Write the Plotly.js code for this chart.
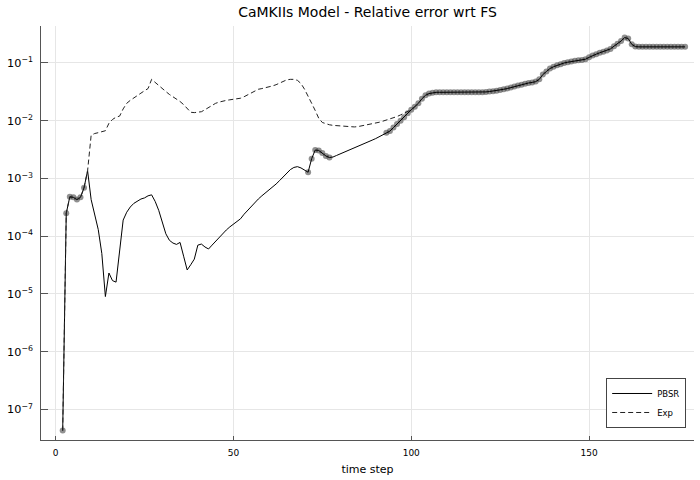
<!DOCTYPE html>
<html>
<head>
<meta charset="utf-8">
<script src="https://cdn.plot.ly/plotly-3.0.1.min.js"></script>
<style>html,body{margin:0;padding:0;background:#fff;}#chart{width:700px;height:480px;}</style>
</head>
<body>
<div id="chart"></div>
<script>
// time steps 2..177
const steps = [];
for (let t = 2; t <= 177; t++) steps.push(t);

// PBSR relative error, t = 2..177
const pbsr = [
  4.3e-8, 2.5e-4, 4.8e-4, 4.7e-4, 4.3e-4, 4.7e-4, 6.9e-4, 1.36e-3, 4.3e-4,      // 2-10
  2.2e-4, 1.3e-4, 5.0e-5, 9.0e-6, 2.3e-5, 1.7e-5, 1.6e-5, 5.0e-5, 1.9e-4, 2.6e-4, // 11-20
  3.2e-4, 3.7e-4, 4.1e-4, 4.4e-4, 4.6e-4, 5.0e-4, 5.2e-4, 4.0e-4, 2.8e-4, 1.7e-4, // 21-30
  1.1e-4, 8.5e-5, 7.6e-5, 7.2e-5, 7.8e-5, 4.5e-5, 2.6e-5, 3.2e-5, 4.0e-5, 7.0e-5, // 31-40
  7.3e-5, 6.5e-5, 6.0e-5, 7.0e-5, 8.2e-5, 9.6e-5, 1.12e-4, 1.28e-4, 1.45e-4, 1.63e-4, // 41-50
  1.8e-4, 2.0e-4, 2.4e-4, 2.8e-4, 3.3e-4, 3.8e-4, 4.4e-4, 5.0e-4, 5.6e-4, 6.3e-4, // 51-60
  7.0e-4, 8.0e-4, 9.2e-4, 1.07e-3, 1.25e-3, 1.42e-3, 1.55e-3, 1.6e-3, 1.52e-3, 1.4e-3, // 61-70
  1.28e-3, 2.2e-3, 3.1e-3, 3.05e-3, 2.75e-3, 2.45e-3, 2.3e-3, 2.35e-3, 2.5e-3, 2.65e-3, // 71-80
  2.8e-3, 3.0e-3, 3.15e-3, 3.35e-3, 3.55e-3, 3.8e-3, 4.05e-3, 4.3e-3, 4.6e-3, 4.9e-3, // 81-90
  5.3e-3, 5.7e-3, 6.2e-3, 6.6e-3, 7.6e-3, 8.8e-3, 1.0e-2, 1.15e-2, 1.35e-2, 1.55e-2, // 91-100
  1.75e-2, 2.0e-2, 2.4e-2, 2.75e-2, 2.95e-2, 3.05e-2, 3.1e-2, 3.1e-2, 3.1e-2, 3.1e-2, // 101-110
  3.1e-2, 3.1e-2, 3.1e-2, 3.1e-2, 3.1e-2, 3.1e-2, 3.1e-2, 3.1e-2, 3.11e-2, 3.12e-2, // 111-120
  3.15e-2, 3.2e-2, 3.25e-2, 3.3e-2, 3.4e-2, 3.5e-2, 3.6e-2, 3.75e-2, 3.9e-2, 4.05e-2, // 121-130
  4.2e-2, 4.35e-2, 4.5e-2, 4.6e-2, 4.75e-2, 5.2e-2, 6.3e-2, 7.1e-2, 8.0e-2, 8.6e-2, // 131-140
  9.1e-2, 9.5e-2, 1.0e-1, 1.03e-1, 1.06e-1, 1.09e-1, 1.11e-1, 1.13e-1, 1.16e-1, 1.25e-1, // 141-150
  1.35e-1, 1.42e-1, 1.5e-1, 1.57e-1, 1.64e-1, 1.75e-1, 1.95e-1, 2.15e-1, 2.4e-1, 2.75e-1, // 151-160
  2.65e-1, 2.1e-1, 1.92e-1, 1.9e-1, 1.9e-1, 1.9e-1, 1.9e-1, 1.9e-1, 1.9e-1, 1.9e-1, // 161-170
  1.9e-1, 1.9e-1, 1.9e-1, 1.9e-1, 1.9e-1, 1.9e-1, 1.9e-1                              // 171-177
];

// Exp relative error, t = 2..102 (afterwards it coincides with PBSR)
const expSteps = [];
for (let t = 2; t <= 102; t++) expSteps.push(t);
const expErr = [
  4.3e-8, 2.5e-4, 4.8e-4, 4.7e-4, 4.3e-4, 4.7e-4, 6.9e-4, 1.36e-3, 5.6e-3,       // 2-10
  6.0e-3, 6.2e-3, 6.4e-3, 6.7e-3, 9.0e-3, 1.05e-2, 1.15e-2, 1.2e-2, 1.6e-2, 2.0e-2, // 11-20
  2.25e-2, 2.5e-2, 2.75e-2, 3.0e-2, 3.3e-2, 3.6e-2, 5.2e-2, 4.65e-2, 4.1e-2, 3.6e-2, // 21-30
  3.2e-2, 2.85e-2, 2.6e-2, 2.4e-2, 2.15e-2, 1.9e-2, 1.6e-2, 1.4e-2, 1.38e-2, 1.4e-2, // 31-40
  1.43e-2, 1.55e-2, 1.7e-2, 1.85e-2, 2.0e-2, 2.1e-2, 2.2e-2, 2.25e-2, 2.3e-2, 2.35e-2, // 41-50
  2.4e-2, 2.45e-2, 2.6e-2, 2.8e-2, 3.05e-2, 3.3e-2, 3.5e-2, 3.6e-2, 3.7e-2, 3.85e-2, // 51-60
  4.0e-2, 4.2e-2, 4.5e-2, 4.8e-2, 5.1e-2, 5.2e-2, 5.2e-2, 5.0e-2, 4.4e-2, 3.5e-2,   // 61-70
  2.7e-2, 2.0e-2, 1.5e-2, 1.1e-2, 9.3e-3, 8.8e-3, 8.5e-3, 8.3e-3, 8.2e-3, 8.0e-3,   // 71-80
  7.9e-3, 7.8e-3, 7.7e-3, 7.8e-3, 7.9e-3, 8.1e-3, 8.3e-3, 8.5e-3, 8.7e-3, 9.0e-3,   // 81-90
  9.4e-3, 9.8e-3, 1.02e-2, 1.07e-2, 1.12e-2, 1.18e-2, 1.26e-2, 1.34e-2, 1.42e-2, 1.55e-2, // 91-100
  1.75e-2, 2.0e-2                                                                     // 101-102
];

// steps that carry a marker
const markerSteps = [];
for (let t = 2; t <= 8; t++) markerSteps.push(t);
for (let t = 71; t <= 77; t++) markerSteps.push(t);
for (let t = 93; t <= 177; t++) markerSteps.push(t);
const markerVals = markerSteps.map(t => pbsr[steps.indexOf(t)]);

const xTicks = [0, 50, 100, 150];

const FONT = "DejaVu Sans, sans-serif";

const traces = [
  {
    x: markerSteps, y: markerVals, type: 'scatter', mode: 'markers',
    marker: {size: 6, color: 'rgba(70,70,70,0.6)', line: {width: 0}},
    showlegend: false, hoverinfo: 'skip'
  },
  {
    x: steps, y: pbsr, type: 'scatter', mode: 'lines', name: 'PBSR',
    line: {color: '#000', width: 1}
  },
  {
    x: expSteps, y: expErr, type: 'scatter', mode: 'lines', name: 'Exp',
    line: {color: '#222', width: 1, dash: '5px,3px'}
  }
];

const layout = {
  width: 700, height: 480,
  margin: {l: 41, r: 6, t: 26, b: 40, pad: 0},
  paper_bgcolor: '#fff', plot_bgcolor: '#fff',
  font: {family: FONT, color: '#000'},
  title: {
    text: 'CaMKIIs Model - Relative error wrt FS',
    font: {family: FONT, size: 14, color: '#000'},
    x: 0.5, xref: 'paper', y: 0.975, yref: 'container', yanchor: 'middle'
  },
  xaxis: {
    range: [-4.1, 179.5],
    tickmode: 'array', tickvals: xTicks,
    showgrid: true, gridcolor: '#e6e6e6', gridwidth: 1,
    zeroline: false, showline: true, linecolor: '#555', linewidth: 1.2,
    ticks: 'inside', ticklen: 4, tickcolor: '#555', tickwidth: 1,
    ticklabelstandoff: 4,
    tickfont: {family: FONT, size: 9, color: '#000'},
    title: {text: 'time step', font: {family: FONT, size: 11, color: '#000'}, standoff: 8}
  },
  yaxis: {
    type: 'log', range: [-7.53, -0.36],
    tickmode: 'linear', tick0: 0, dtick: 1,
    exponentformat: 'power',
    showgrid: true, gridcolor: '#e6e6e6', gridwidth: 1,
    zeroline: false, showline: true, linecolor: '#555', linewidth: 1.2,
    ticks: 'inside', ticklen: 7, tickcolor: '#555', tickwidth: 1,
    ticklabelstandoff: 5,
    tickfont: {family: FONT, size: 9, color: '#000'}
  },
  legend: {
    x: 0.988, y: 0.029, xanchor: 'right', yanchor: 'bottom',
    bgcolor: '#fff', bordercolor: '#444', borderwidth: 1,
    font: {family: FONT, size: 8.5, color: '#000'},
    traceorder: 'normal', itemwidth: 40,
    tracegroupgap: 0
  },
  showlegend: true
};

Plotly.newPlot('chart', traces, layout, {displayModeBar: false, staticPlot: true});
</script>
</body>
</html>
